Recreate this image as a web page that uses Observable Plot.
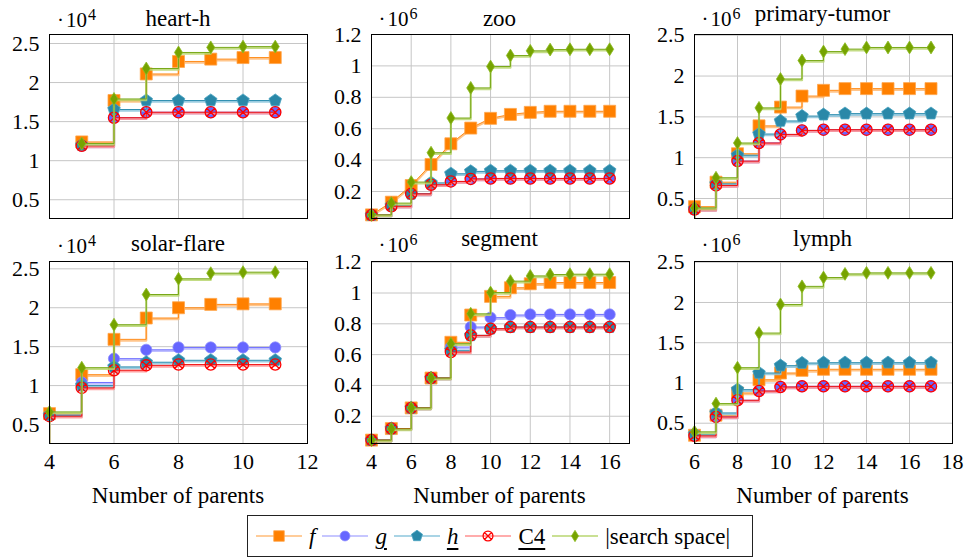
<!DOCTYPE html>
<html><head><meta charset="utf-8">
<script src="https://cdn.jsdelivr.net/npm/d3@7"></script>
<script src="https://cdn.jsdelivr.net/npm/@observablehq/plot@0.6"></script>
<style>
body{margin:0;background:#fff;}
#root{position:relative;width:966px;height:559px;overflow:hidden;font-family:"Liberation Serif","Times New Roman","DejaVu Serif",serif;color:#000;}
.panel{position:absolute;}
#overlay{position:absolute;left:0;top:0;pointer-events:none;}
#legend{position:absolute;left:247px;top:515px;width:506px;height:42px;border:1px solid #222;box-sizing:border-box;display:flex;align-items:center;padding-left:8px;font-size:23px;white-space:nowrap;}
#legend svg{display:block;}
#legend span{margin-left:7px;margin-right:7px;line-height:1;}
.ul{text-decoration:underline;text-decoration-thickness:2px;text-underline-offset:4px;}
</style></head>
<body><div id="root"><svg id="overlay" width="966" height="559"></svg><div id="legend"></div></div>
<script>
// ---------------- data (values in units of the panel multiplier) ----------------
const panelNames = ["heart-h","zoo","primary-tumor","solar-flare","segment","lymph"];
const exponents = ["4","6","6","4","6","6"];
const seriesKeys = ["f","g","h","c4","s"];

const heartH_x  = [5,6,7,8,9,10,11];
const heartH_f  = [1.24,1.77,2.11,2.27,2.30,2.32,2.32];
const heartH_g  = [1.19,1.55,1.62,1.62,1.62,1.62,1.62];
const heartH_h  = [1.20,1.655,1.77,1.77,1.77,1.77,1.77];
const heartH_c4 = [1.19,1.55,1.62,1.62,1.62,1.62,1.62];
const heartH_s  = [1.22,1.79,2.18,2.385,2.45,2.46,2.46];

const zoo_x  = [4,5,6,7,8,9,10,11,12,13,14,15,16];
const zoo_f  = [0.051,0.132,0.238,0.372,0.504,0.604,0.666,0.691,0.704,0.711,0.711,0.711,0.711];
const zoo_g  = [0.05,0.106,0.185,0.243,0.264,0.28,0.283,0.283,0.283,0.283,0.283,0.283,0.283];
const zoo_h  = [0.05,0.11,0.185,0.255,0.313,0.328,0.332,0.332,0.332,0.332,0.332,0.332,0.332];
const zoo_c4 = [0.05,0.106,0.185,0.243,0.264,0.28,0.283,0.283,0.283,0.283,0.283,0.283,0.283];
const zoo_s  = [0.051,0.126,0.26,0.447,0.668,0.86,0.996,1.066,1.096,1.104,1.106,1.106,1.106];

// first entry (x = 5) lies left of the visible axis
const tumor_x  = [5,6,7,8,9,10,11,12,13,14,15,16,17];
const tumor_f  = [0.2,0.40,0.70,1.048,1.39,1.62,1.755,1.825,1.846,1.846,1.846,1.846,1.846];
const tumor_g  = [0.2,0.365,0.66,0.958,1.18,1.285,1.334,1.343,1.343,1.343,1.343,1.343,1.343];
const tumor_h  = [0.2,0.373,0.68,1.03,1.29,1.45,1.51,1.527,1.54,1.54,1.54,1.54,1.54];
const tumor_c4 = [0.2,0.365,0.66,0.958,1.18,1.285,1.334,1.343,1.343,1.343,1.343,1.343,1.343];
const tumor_s  = [0.2,0.385,0.754,1.18,1.61,1.964,2.19,2.30,2.33,2.35,2.35,2.35,2.35];

// first entry (x = 3) lies left of the visible axis
const solar_x  = [3,4,5,6,7,8,9,10,11];
const solar_f  = [0.2,0.64,1.14,1.594,1.868,2.0,2.043,2.05,2.05];
const solar_g  = [0.2,0.62,1.04,1.346,1.46,1.49,1.49,1.49,1.49];
const solar_h  = [0.2,0.62,1.0,1.24,1.30,1.325,1.325,1.325,1.325];
const solar_c4 = [0.2,0.607,0.97,1.197,1.26,1.27,1.27,1.27,1.27];
const solar_s  = [0.2,0.662,1.23,1.782,2.17,2.372,2.444,2.457,2.457];

const segment_x  = [4,5,6,7,8,9,10,11,12,13,14,15,16];
const segment_f  = [0.045,0.12,0.254,0.448,0.68,0.857,0.978,1.034,1.06,1.068,1.068,1.068,1.068];
const segment_g  = [0.045,0.12,0.254,0.448,0.649,0.779,0.84,0.857,0.861,0.861,0.861,0.861,0.861];
const segment_h  = [0.045,0.12,0.254,0.448,0.628,0.725,0.768,0.779,0.779,0.779,0.779,0.779,0.779];
const segment_c4 = [0.045,0.12,0.254,0.448,0.617,0.725,0.768,0.779,0.779,0.779,0.779,0.779,0.779];
const segment_s  = [0.045,0.118,0.254,0.448,0.671,0.865,1.003,1.077,1.111,1.12,1.122,1.122,1.122];

// first entry (x = 5) lies left of the visible axis
const lymph_x  = [5,6,7,8,9,10,11,12,13,14,15,16,17];
const lymph_f  = [0.2,0.35,0.60,0.876,1.04,1.124,1.157,1.17,1.17,1.17,1.17,1.17,1.17];
const lymph_g  = [0.2,0.343,0.578,0.785,0.90,0.95,0.958,0.958,0.958,0.958,0.958,0.958,0.958];
const lymph_h  = [0.2,0.364,0.628,0.917,1.124,1.215,1.248,1.252,1.252,1.252,1.252,1.252,1.252];
const lymph_c4 = [0.2,0.343,0.578,0.785,0.90,0.95,0.958,0.958,0.958,0.958,0.958,0.958,0.958];
const lymph_s  = [0.2,0.393,0.744,1.19,1.62,1.975,2.20,2.31,2.355,2.368,2.368,2.368,2.368];

const xTicksA = [4,6,8,10,12];
const xTicksB = [4,6,8,10,12,14,16];
const xTicksC = [6,8,10,12,14,16,18];
const yTicks25 = [0.5,1,1.5,2,2.5];
const yTicks12 = [0.2,0.4,0.6,0.8,1,1.2];

const xLabel = "Number of parents";
const legendLabels = ["f","g","h","C4","|search space|"];

// ---------------- symbols ----------------
const symSquare = {draw(c,size){const R=Math.sqrt(size/Math.PI);c.moveTo(-R,-R);c.lineTo(R,-R);c.lineTo(R,R);c.lineTo(-R,R);c.closePath();}};
const symPentagon = {draw(c,size){const R=Math.sqrt(size/Math.PI)*1.1;for(let k=0;k<5;k++){const a=-Math.PI/2+k*2*Math.PI/5;const px=R*Math.cos(a),py=R*Math.sin(a);if(k)c.lineTo(px,py);else c.moveTo(px,py);}c.closePath();}};
const symDiamond = {draw(c,size){const R=Math.sqrt(size/Math.PI);c.moveTo(0,-1.15*R);c.lineTo(0.72*R,0);c.lineTo(0,1.15*R);c.lineTo(-0.72*R,0);c.closePath();}};
const symOtimes = {draw(c,size){const R=Math.sqrt(size/Math.PI);c.moveTo(R,0);c.arc(0,0,R,0,2*Math.PI);const a=R*Math.SQRT1_2;c.moveTo(-a,-a);c.lineTo(a,a);c.moveTo(-a,a);c.lineTo(a,-a);}};

const STYLE = {
  f:  {fill:"#ff8000", mstroke:"#ffa64d", line:"#ff8c1a", light:"#ffbb77", sym:symSquare, r:6, sw:0.8},
  g:  {fill:"#6666ff", mstroke:"#8c8cff", line:"#7070ff", light:"#b3b3ff", sym:d3.symbolCircle, r:5.6, sw:0.8},
  h:  {fill:"#2a88a8", mstroke:"#4aa3c0", line:"#2f8fb0", light:"#8cc6dc", sym:symPentagon, r:6, sw:0.8},
  c4: {fill:"none",    mstroke:"#ff0000", line:"#f01010", light:"#ff9090", sym:symOtimes, r:5.6, sw:1.3},
  s:  {fill:"#76a300", mstroke:"#8dbb22", line:"#78a818", light:"#b8d670", sym:symDiamond, r:5.6, sw:0.8}
};

// ---------------- panel definitions ----------------
const panels = [
  {x:heartH_x, f:heartH_f, g:heartH_g, h:heartH_h, c4:heartH_c4, s:heartH_s, xDomain:[4,12], yDomain:[0.26,2.615], xTicks:xTicksA, yTicks:yTicks25, linear:[]},
  {x:zoo_x, f:zoo_f, g:zoo_g, h:zoo_h, c4:zoo_c4, s:zoo_s, xDomain:[4,17], yDomain:[0.028,1.2], xTicks:xTicksB, yTicks:yTicks12, linear:["f"]},
  {x:tumor_x, f:tumor_f, g:tumor_g, h:tumor_h, c4:tumor_c4, s:tumor_s, xDomain:[6,18], yDomain:[0.255,2.509], xTicks:xTicksC, yTicks:yTicks25, linear:[]},
  {x:solar_x, f:solar_f, g:solar_g, h:solar_h, c4:solar_c4, s:solar_s, xDomain:[4,12], yDomain:[0.256,2.594], xTicks:xTicksA, yTicks:yTicks25, linear:[]},
  {x:segment_x, f:segment_f, g:segment_g, h:segment_h, c4:segment_c4, s:segment_s, xDomain:[4,17], yDomain:[0.023,1.2045], xTicks:xTicksB, yTicks:yTicks12, linear:[]},
  {x:lymph_x, f:lymph_f, g:lymph_g, h:lymph_h, c4:lymph_c4, s:lymph_s, xDomain:[6,18], yDomain:[0.248,2.509], xTicks:xTicksC, yTicks:yTicks25, linear:[]}
];

// layout (pixels)
const FONT = "'Liberation Serif','Times New Roman','DejaVu Serif',serif";
const colLeft = [49, 370.5, 693.5];
const frameW = 258;
const rowTop = [34.3, 261];
const frameH = [183.7, 182.3];
const titleBase = [26, 26, 21, 250.7, 246, 246];
const expBase = [26.5, 26, 25.5, 253, 252, 252];
const mL = 48, mR = 14, mT = 6;

const root = document.getElementById("root");

panels.forEach((p, idx) => {
  const col = idx % 3, row = Math.floor(idx / 3);
  const mB = row === 1 ? 34 : 6;
  const marks = [
    Plot.ruleX(p.xTicks, {stroke:"#c6c6c6", strokeWidth:1}),
    Plot.ruleY(p.yTicks, {stroke:"#c6c6c6", strokeWidth:1})
  ];
  for (const k of seriesKeys) {
    const st = STYLE[k];
    const rows = p.x.map((x, i) => ({x, y: p[k][i]}));
    const curve = p.linear.includes(k) ? "linear" : "step-after";
    marks.push(Plot.line(rows, {x:"x", y:"y", curve, stroke:st.light, strokeWidth:2.2, strokeOpacity:0.85, dy:1.2, clip:true}));
    marks.push(Plot.line(rows, {x:"x", y:"y", curve, stroke:st.line, strokeWidth:1, clip:true}));
    marks.push(Plot.dot(rows.filter(d => d.x >= p.xDomain[0]), {x:"x", y:"y", symbol:st.sym, r:st.r, fill:st.fill, stroke:st.mstroke, strokeWidth:st.sw}));
  }
  marks.push(Plot.frame({stroke:"#000", strokeWidth:1}));
  const chart = Plot.plot({
    width: frameW + mL + mR,
    height: Math.round(frameH[row]) + mT + mB,
    marginLeft: mL, marginRight: mR, marginTop: mT, marginBottom: mB,
    x: {domain:p.xDomain, ticks:p.xTicks, tickFormat:d=>String(d), tickSize:0, tickPadding:10, label:null, axis: row === 1 ? "bottom" : null},
    y: {domain:p.yDomain, ticks:p.yTicks, tickFormat:d=>String(d), tickSize:0, tickPadding:10, label:null},
    style: {fontFamily:FONT, fontSize:"22px", color:"#000", background:"transparent", overflow:"visible"},
    marks
  });
  const wrap = document.createElement("div");
  wrap.className = "panel";
  wrap.style.left = (colLeft[col] - mL) + "px";
  wrap.style.top = (rowTop[row] - mT) + "px";
  wrap.appendChild(chart);
  root.insertBefore(wrap, document.getElementById("overlay"));
});

// ---------------- overlay text ----------------
const ov = d3.select("#overlay").style("font-family", FONT);
panelNames.forEach((name, idx) => {
  const col = idx % 3;
  const cx = colLeft[col] + frameW / 2;
  ov.append("text").attr("x", cx).attr("y", titleBase[idx]).attr("text-anchor", "middle")
    .style("font-size", "23px").attr("fill", "#000").text(name);
  const t = ov.append("text").attr("x", colLeft[col] + 8).attr("y", expBase[idx])
    .style("font-size", "21px").attr("fill", "#000");
  t.append("tspan").text("\u00b7");
  t.append("tspan").attr("dx", 2).text("10");
  t.append("tspan").attr("dx", 1).attr("dy", -7).style("font-size", "16px").text(exponents[idx]);
});
[0,1,2].forEach(col => {
  ov.append("text").attr("x", colLeft[col] + frameW / 2).attr("y", 502.5).attr("text-anchor", "middle")
    .style("font-size", "23px").attr("fill", "#000").text(xLabel);
});

// ---------------- legend ----------------
const legend = d3.select("#legend");
seriesKeys.forEach((k, i) => {
  const st = STYLE[k];
  const sv = legend.append("svg").attr("width", 46).attr("height", 20).style("overflow", "visible");
  sv.append("line").attr("x1", 0).attr("x2", 46).attr("y1", 10).attr("y2", 10)
    .attr("stroke", st.light).attr("stroke-width", 1.6);
  const r = st.r * 0.88;
  sv.append("path").attr("transform", "translate(23,10)")
    .attr("d", d3.symbol(st.sym, Math.PI * r * r)())
    .attr("fill", st.fill).attr("stroke", st.mstroke).attr("stroke-width", st.sw);
  const sp = legend.append("span").text(legendLabels[i]);
  if (k === "f" || k === "g" || k === "h") sp.style("font-style", "italic");
  if (k === "g" || k === "h" || k === "c4") sp.attr("class", "ul");
});
</script>
</body></html>
